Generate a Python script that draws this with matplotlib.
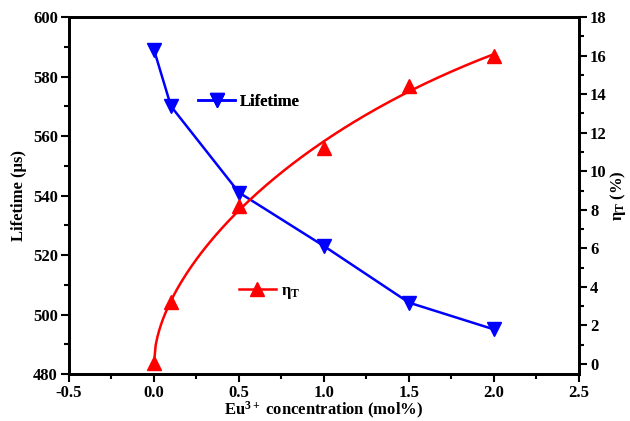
import numpy as np
import matplotlib
matplotlib.use("Agg")
import matplotlib.pyplot as plt
from matplotlib.ticker import MultipleLocator

plt.rcParams['font.family'] = ['Liberation Serif', 'DejaVu Serif']
plt.rcParams['font.weight'] = 'bold'
plt.rcParams['axes.unicode_minus'] = False
plt.rcParams['mathtext.fontset'] = 'custom'
plt.rcParams['mathtext.rm'] = 'Liberation Serif:bold'
plt.rcParams['mathtext.it'] = 'Liberation Serif:bold'
plt.rcParams['mathtext.bf'] = 'Liberation Serif:bold'

# data
conc = [0.0, 0.1, 0.5, 1.0, 1.5, 2.0]
lifetime = [589, 570, 541, 523, 504, 495]
eta_t = [0.05, 3.2, 8.2, 11.2, 14.4, 16.0]

fig = plt.figure(figsize=(6.3, 4.21), dpi=100)
ax = fig.add_axes([0.1095, 0.1116, 0.8095, 0.848])
ax2 = ax.twinx()

l1, = ax.plot(conc, lifetime, color='blue', lw=1.8, marker='v', ms=10, label='Lifetime')

# smooth fit for eta_T (in sqrt(x))
s = np.sqrt(conc)
coef = np.polyfit(s, eta_t, 3)
xs = np.linspace(0, 2.0, 200)
ax2.plot(xs, np.polyval(coef, np.sqrt(xs)), color='red', lw=1.8)
ax2.plot(conc, eta_t, color='red', ls='none', marker='^', ms=10)
l2, = ax2.plot([], [], color='red', lw=1.8, marker='^', ms=10, label=r'$\eta_T$')

ax.set_xlim(-0.5, 2.5)
ax.set_ylim(480, 600)
ax2.set_ylim(-0.52, 18)

ax.xaxis.set_major_locator(MultipleLocator(0.5))
ax.xaxis.set_minor_locator(MultipleLocator(0.25))
ax.yaxis.set_major_locator(MultipleLocator(20))
ax.yaxis.set_minor_locator(MultipleLocator(10))
ax2.yaxis.set_major_locator(MultipleLocator(2))
ax2.yaxis.set_minor_locator(MultipleLocator(1))

for a in (ax, ax2):
    a.tick_params(which='major', direction='out', length=6, width=1.5, labelsize=12, pad=2)
    a.tick_params(which='minor', direction='out', length=3.5, width=1.5)
    for sp in a.spines.values():
        sp.set_linewidth(2)
ax.tick_params(top=False, which='both')

ax.set_xlabel(r'Eu$^{3+}$ concentration (mol%)', fontsize=12, fontweight='bold', labelpad=-1)
ax.set_ylabel('Lifetime (\u03bcs)', fontsize=12, fontweight='bold', labelpad=4)
ax2.set_ylabel(r'$\eta_T$ (%)', fontsize=12, fontweight='bold', labelpad=1)

leg1 = ax.legend(handles=[l1], loc='center left', bbox_to_anchor=(0.224, 0.762), frameon=False,
                 fontsize=12, handlelength=2.2, handletextpad=0.3)
ax.add_artist(leg1)
leg2 = ax2.legend(handles=[l2], loc='center left', bbox_to_anchor=(0.304, 0.23), frameon=False,
                  fontsize=12, handlelength=2.2, handletextpad=0.3)
for t in leg2.get_texts():
    t.set_fontweight('normal')

fig.savefig('out.png', dpi=100)
